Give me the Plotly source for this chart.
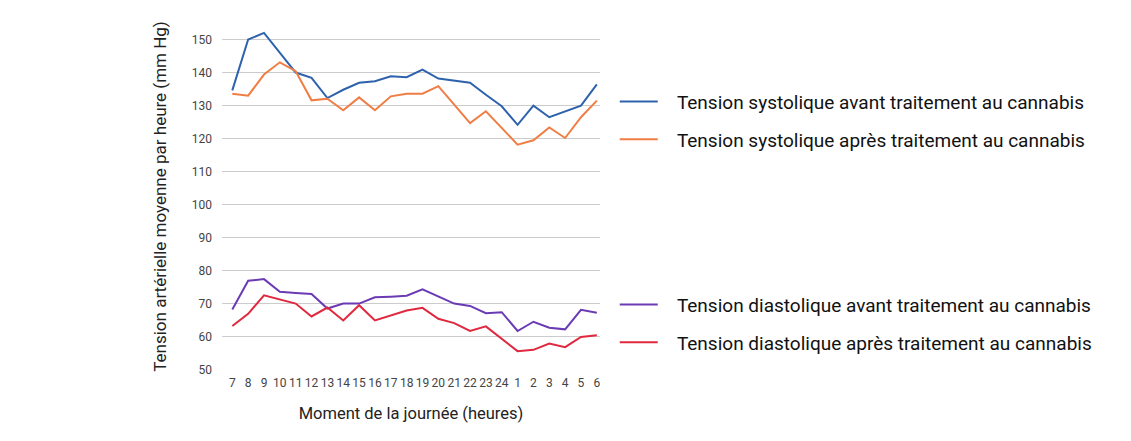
import plotly.graph_objects as go

# Heures de la journée (catégories)
heures = ["7", "8", "9", "10", "11", "12", "13", "14", "15", "16", "17", "18",
          "19", "20", "21", "22", "23", "24", "1", "2", "3", "4", "5", "6"]

syst_avant = [134.6, 150.0, 152.0, 146.0, 140.0, 138.4, 132.3, 134.8, 136.9, 137.4, 138.9, 138.6,
              140.9, 138.2, 137.6, 136.9, 133.3, 129.8, 124.2, 130.0, 126.5, 128.3, 130.0, 136.4]
syst_apres = [133.6, 133.0, 139.4, 143.1, 140.4, 131.6, 132.1, 128.6, 132.5, 128.6, 132.8, 133.6,
              133.6, 135.9, 130.3, 124.7, 128.3, 123.2, 118.2, 119.5, 123.4, 120.2, 126.5, 131.5]
diast_avant = [68.3, 77.0, 77.5, 73.7, 73.3, 73.0, 68.6, 70.1, 70.1, 72.0, 72.2, 72.5,
               74.4, 72.3, 70.1, 69.4, 67.2, 67.5, 61.8, 64.6, 62.8, 62.3, 68.2, 67.3]
diast_apres = [63.3, 67.0, 72.6, 71.3, 70.1, 66.2, 68.9, 65.0, 69.6, 65.0, 66.5, 68.0,
               68.8, 65.5, 64.2, 61.8, 63.2, 59.4, 55.7, 56.1, 58.0, 56.9, 60.0, 60.5]

series = [
    ("Tension systolique avant traitement au cannabis", syst_avant, "#2f62ad", "legend"),
    ("Tension systolique après traitement au cannabis", syst_apres, "#f07e44", "legend"),
    ("Tension diastolique avant traitement au cannabis", diast_avant, "#6a3bb5", "legend2"),
    ("Tension diastolique après traitement au cannabis", diast_apres, "#e0283f", "legend2"),
]

fig = go.Figure()
for i, (nom, vals, couleur, leg) in enumerate(series):
    # espaces insécables pour écarter le texte du trait de légende
    fig.add_trace(go.Scatter(x=heures, y=vals, name="\u00a0\u00a0\u00a0" + nom, mode="lines",
                             line=dict(color=couleur, width=2),
                             legend=leg, legendgroup=str(i)))

font_leg = dict(family="Roboto", size=19, color="#111111")

# la page ajoute 8 px de marge autour du graphique
fig.update_layout(
    width=1131, height=441,
    margin=dict(l=214, r=539, t=15, b=79),
    paper_bgcolor="white", plot_bgcolor="white",
    font=dict(family="Roboto", color="#333333"),
    legend=dict(x=1.039, y=0.828, xanchor="left", yanchor="top",
                font=font_leg, tracegroupgap=10, itemwidth=38,
                bgcolor="rgba(0,0,0,0)"),
    legend2=dict(x=1.039, y=0.243, xanchor="left", yanchor="top",
                 font=font_leg, tracegroupgap=10, itemwidth=38,
                 bgcolor="rgba(0,0,0,0)"),
)
fig.update_xaxes(type="category", range=[-0.65, 23.2], showgrid=False, showline=False, ticks="",
                 tickfont=dict(size=12, color="#444444"), ticklabelstandoff=4,
                 title=dict(text="Moment de la journée (heures)",
                            font=dict(size=16.5, color="#222222"), standoff=18))
fig.update_yaxes(range=[50, 155], dtick=10, tick0=50, showgrid=True, gridcolor="#cccccc",
                 zeroline=False, showline=False, ticks="",
                 tickfont=dict(size=12, color="#444444"), ticklabelstandoff=9,
                 title=dict(text="Tension artérielle moyenne par heure (mm Hg)",
                            font=dict(size=17, color="#222222"), standoff=20))

fig.write_html("out.html")
